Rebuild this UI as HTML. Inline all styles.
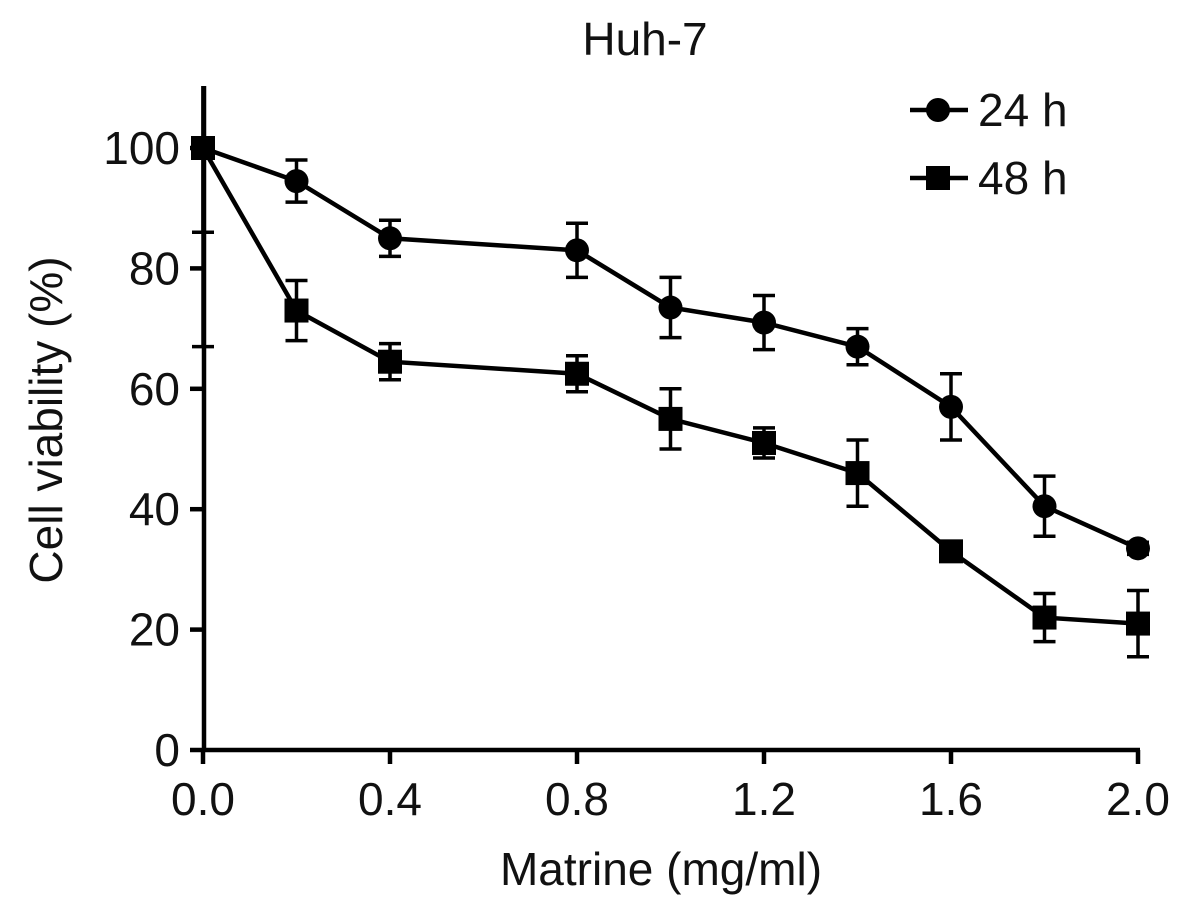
<!DOCTYPE html>
<html><head><meta charset="utf-8"><style>
body{margin:0;background:#fff}
svg{display:block;font-family:"Liberation Sans",Arial,sans-serif}
</style></head><body>
<svg id="c" width="1181" height="909" viewBox="0 0 1181 909"></svg>
<script>
const xVals=[0,0.2,0.4,0.8,1.0,1.2,1.4,1.6,1.8,2.0];
const v24=[100,94.5,85,83,73.5,71,67,57,40.5,33.5];
const e24=[33,3.5,3,4.5,5,4.5,3,5.5,5,1];
const v48=[100,73,64.5,62.5,55,51,46,33,22,21];
const e48=[14,5,3,3,5,2.5,5.5,1.5,4,5.5];
const yTicks=[0,20,40,60,80,100];
const xTicks=[0,0.4,0.8,1.2,1.6,2.0];
const xTickLabels=["0.0","0.4","0.8","1.2","1.6","2.0"];
const NS="http://www.w3.org/2000/svg";
const svg=document.getElementById('c');
const X=v=>203+v/2*935;
const Y=v=>750-v*6.02;
const FS=46;
function el(t,a,p){const e=document.createElementNS(NS,t);for(const k in a)e.setAttribute(k,a[k]);(p||svg).appendChild(e);return e;}
const defs=el('defs',{});const cp=el('clipPath',{id:'cl'},defs);el('rect',{x:0,y:86,width:1181,height:700},cp);
function txt(s,x,y,anchor,name){const t=el('text',{x:x,y:y,'text-anchor':anchor,'font-size':FS,fill:'#111'});t.textContent=s;

return t;}
txt('Huh-7',645,55,'middle','chart-title');
const yl=txt('Cell viability (%)',0,0,'middle','y-axis-title');yl.setAttribute('transform','translate(62,420) rotate(-90)');
txt('Matrine (mg/ml)',661,885,'middle','x-axis-title');
const ax=el('path',{d:`M204,86 V750 H1140`,stroke:'#000','stroke-width':4.5,fill:'none'});


yTicks.forEach(t=>{el('line',{x1:190,x2:204,y1:Y(t),y2:Y(t),stroke:'#000','stroke-width':4.5});
txt(String(t),180,Y(t)+16,'end','y-tick-label');});
xTicks.forEach((t,i)=>{el('line',{x1:X(t),x2:X(t),y1:750,y2:764,stroke:'#000','stroke-width':4.5});
txt(xTickLabels[i],X(t),815,'middle','x-tick-label');});
function series(vals,errs,shape,name){
const g=el('g',{'clip-path':'url(#cl)'});


vals.forEach((v,i)=>{const x=X(xVals[i]);const a=Y(v+errs[i]),b=Y(v-errs[i]);
el('path',{d:`M${x},${a}V${b}M${x-11},${a}H${x+11}M${x-11},${b}H${x+11}`,stroke:'#000','stroke-width':3.5,fill:'none'},g);});
el('polyline',{points:vals.map((v,i)=>X(xVals[i])+','+Y(v)).join(' '),stroke:'#000','stroke-width':4.5,fill:'none'},g);
vals.forEach((v,i)=>{const x=X(xVals[i]),y=Y(v);
if(shape==='c')el('circle',{cx:x,cy:y,r:12,fill:'#000'},g);else el('rect',{x:x-12,y:y-12,width:24,height:24,fill:'#000'},g);});
}
series(v24,e24,'c','series-24h');
series(v48,e48,'s','series-48h');
function leg(y,shape,label,name){const g=el('g',{});


el('line',{x1:910,x2:968,y1:y,y2:y,stroke:'#000','stroke-width':4.5},g);
if(shape==='c')el('circle',{cx:938,cy:y,r:12,fill:'#000'},g);else el('rect',{x:926,y:y-12,width:24,height:24,fill:'#000'},g);
const t=el('text',{x:978,y:y+16,'font-size':FS,fill:'#111'},g);t.textContent=label;}
leg(110,'c','24 h','legend-24h');
leg(178,'s','48 h','legend-48h');
</script>
</body></html>
